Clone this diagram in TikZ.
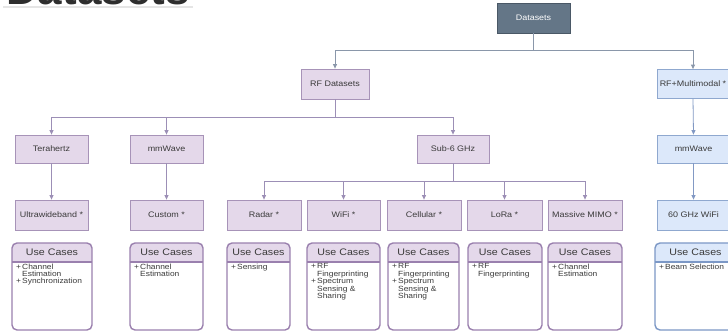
\documentclass[tikz,border=0pt]{standalone}
\usepackage{fontspec}
\setmainfont{Liberation Sans}
\newfontfamily\boxfont[FakeStretch=1.12]{Liberation Sans}
\newfontfamily\titlefont{Liberation Sans}
\usetikzlibrary{arrows.meta,calc}

\definecolor{slatefill}{HTML}{647687}
\definecolor{slateline}{HTML}{4A5866}
\definecolor{pfill}{HTML}{E4D8EA}
\definecolor{pline}{HTML}{A793B8}
\definecolor{pedge}{HTML}{9A80AE}
\definecolor{bfill}{HTML}{DCE8FA}
\definecolor{bline}{HTML}{8FA8CF}
\definecolor{bedge}{HTML}{7C98C6}
\definecolor{rootwire}{HTML}{8A97AA}
\definecolor{pwire}{HTML}{9C8FB6}
\definecolor{bwire}{HTML}{8299C4}
\definecolor{textgray}{HTML}{3A3A3A}
\definecolor{titlegray}{HTML}{2E2E2E}

% bullet helpers for the use-case lists
\newcommand\plusitem{\makebox[6pt][l]{+}}
\newcommand\moreitem{\hspace*{6pt}}

% a "Use Cases" card: name, left x, right x, palette, list
\newcommand\ucbox[5]{%
  \coordinate (#1-nw) at (#2,243);
  \coordinate (#1-se) at (#3,330);
  \coordinate (#1-hw) at (#2,262);
  \coordinate (#1-he) at (#3,262);
  \begin{scope}
    \clip[rounded corners=5pt] (#1-nw) rectangle (#1-se);
    \fill[white] (#1-nw) rectangle (#1-se);
    \fill[#4 head] (#1-nw) rectangle (#1-he);
  \end{scope}
  \draw[#4 edge] (#1-hw) -- (#1-he);
  \draw[#4 edge, rounded corners=5pt] (#1-nw) rectangle (#1-se);
  \node[uctitle] (#1-title) at ($(#1-nw)!0.5!(#1-he)$) {Use Cases};
  \node[ucitems, anchor=north west] (#1-items) at ([shift={(4,1.5)}]#1-hw) {#5};
}

\begin{document}
\begin{tikzpicture}[x=1pt, y=-1pt,
  box/.style={draw, line width=0.8pt, minimum width=73pt, minimum height=29pt,
    inner sep=0pt, font=\boxfont\fontsize{8}{9}\selectfont, text=textgray},
  purplebox/.style={box, fill=pfill, draw=pline},
  bluebox/.style={box, fill=bfill, draw=bline},
  rootbox/.style={box, fill=slatefill, draw=slateline, text=white},
  tip/.style={-{Triangle[length=4.5pt,width=4pt]}},
  rootlink/.style={line width=0.8pt, draw=rootwire},
  plink/.style={line width=0.8pt, draw=pwire},
  blink/.style={line width=0.8pt, draw=bwire},
  ucp head/.style={fill=pfill},
  ucp edge/.style={draw=pedge, line width=1.4pt},
  ucb head/.style={fill=bfill},
  ucb edge/.style={draw=bedge, line width=1.4pt},
  uctitle/.style={inner sep=0pt, text=textgray, font=\boxfont\fontsize{9.5}{10}\selectfont},
  ucitems/.style={inner sep=0pt, align=left, text=textgray, font=\boxfont\fontsize{7.5}{7.4}\selectfont}
]
% the page is exactly this frame
\useasboundingbox (0,0) rectangle (728,335);
\clip (0,0) rectangle (728,335);
\fill[white] (0,0) rectangle (728,335);

% page heading, cut by the top edge
\node[anchor=base west, inner sep=0pt, text=titlegray,
      font=\titlefont\bfseries\fontsize{44}{44}\selectfont] (heading) at (6,4) {Datasets};
\draw[line width=2pt, black!10] (3,6.5) -- (193,6.5);

% tree of categories
\node[rootbox, minimum height=30pt] (root) at (533.5,18) {Datasets};

\node[purplebox, minimum width=68pt, minimum height=30pt] (rf) at (335,84) {RF Datasets};
\node[bluebox, minimum width=72pt, minimum height=29pt] (rfmm) at (693,84) {RF+Multimodal *};

\node[purplebox, minimum height=28pt] (thz)  at (51.5,149)  {Terahertz};
\node[purplebox, minimum height=28pt] (mmw)  at (166.5,149) {mmWave};
\node[purplebox, minimum width=72pt, minimum height=28pt] (sub6) at (453,149) {Sub-6 GHz};
\node[bluebox,   minimum height=28pt] (bmm)  at (693.5,149) {mmWave};

\node[purplebox, minimum height=30pt] (uwb)   at (51.5,215)  {Ultrawideband *};
\node[purplebox, minimum height=30pt] (cust)  at (166.5,215) {Custom *};
\node[purplebox, minimum width=74pt, minimum height=30pt] (radar) at (264,215)   {Radar *};
\node[purplebox, minimum height=30pt] (wifi)  at (343.5,215) {WiFi *};
\node[purplebox, minimum width=74pt, minimum height=30pt] (cell)  at (424,215)   {Cellular *};
\node[purplebox, minimum width=75pt, minimum height=30pt] (lora)  at (504.5,215) {LoRa *};
\node[purplebox, minimum width=74pt, minimum height=30pt] (mimo)  at (585,215)   {Massive MIMO *};
\node[bluebox,   minimum height=30pt] (ghz)   at (693.5,215) {60 GHz WiFi};

% connectors
\coordinate (j0) at (533.5,50);
\draw[rootlink] (root.south) -- (j0);
\draw[rootlink, tip] (j0) -| (rf.north);
\draw[rootlink, tip] (j0) -| (rfmm.north);

\coordinate (j1) at (335,117);
\draw[plink] (rf.south) -- (j1);
\draw[plink, tip] (j1) -| (thz.north);
\draw[plink, tip] (j1) -| (mmw.north);
\draw[plink, tip] (j1) -| (sub6.north);

\draw[plink, tip] (thz.south) -- (uwb.north);
\draw[plink, tip] (mmw.south) -- (cust.north);

\coordinate (j2) at (453,181);
\draw[plink] (sub6.south) -- (j2);
\draw[plink, tip] (j2) -| (radar.north);
\draw[plink, tip] (j2) -| (wifi.north);
\draw[plink, tip] (j2) -| (cell.north);
\draw[plink, tip] (j2) -| (lora.north);
\draw[plink, tip] (j2) -| (mimo.north);

\draw[blink, tip] (rfmm.south) -- (bmm.north);
\draw[blink, tip] (bmm.south) -- (ghz.north);

% use-case cards
\ucbox{ucuwb}{12}{92}{ucp}{\plusitem Channel\\\moreitem Estimation\\\plusitem Synchronization}
\ucbox{uccust}{130}{203}{ucp}{\plusitem Channel\\\moreitem Estimation}
\ucbox{ucradar}{227}{290}{ucp}{\plusitem Sensing}
\ucbox{ucwifi}{307}{380}{ucp}{\plusitem RF\\\moreitem Fingerprinting\\\plusitem Spectrum\\\moreitem Sensing \&\\\moreitem Sharing}
\ucbox{uccell}{388}{459}{ucp}{\plusitem RF\\\moreitem Fingerprinting\\\plusitem Spectrum\\\moreitem Sensing \&\\\moreitem Sharing}
\ucbox{uclora}{468}{542}{ucp}{\plusitem RF\\\moreitem Fingerprinting}
\ucbox{ucmimo}{548}{622}{ucp}{\plusitem Channel\\\moreitem Estimation}
\ucbox{ucghz}{655}{736}{ucb}{\plusitem Beam Selection}
\end{tikzpicture}
\end{document}
